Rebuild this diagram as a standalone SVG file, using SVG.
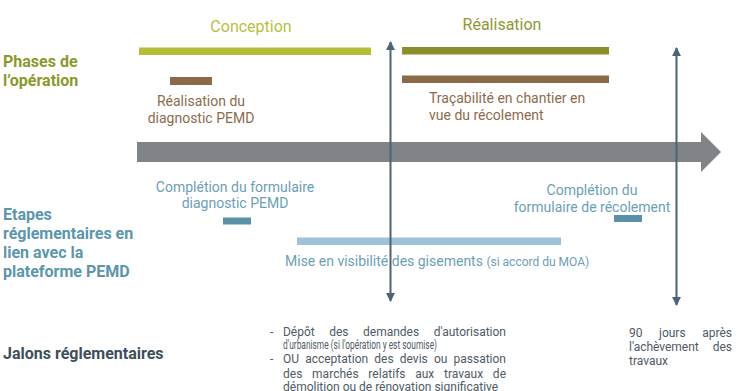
<svg xmlns="http://www.w3.org/2000/svg" width="737" height="391" viewBox="0 0 737 391">
<defs>
<style>
text{font-family:Roboto,"Liberation Sans",sans-serif;}
.h{font-weight:bold;font-size:16px;}
.olive{fill:#8a9a2b;}
.teal{fill:#5b96ae;}
.dark{fill:#3e4e5a;}
.brownT{fill:#8c6b4b;font-size:14px;}
.blueT{fill:#6aa0b8;font-size:14px;}
.sm{font-size:12px;fill:#4e5a64;}
.vline{stroke:#4a6475;stroke-width:2;fill:none;}
</style>
<marker id="ah" viewBox="0 0 10 10" refX="9" refY="5" markerWidth="4.5" markerHeight="4.5" orient="auto-start-reverse" markerUnits="strokeWidth">
<path d="M0,0 L10,5 L0,10 Z" fill="#4a6475"/>
</marker>
</defs>
<rect width="737" height="391" fill="#ffffff"/>

<g id="labels">
<text class="h olive" x="3" y="67">Phases de</text>
<text class="h olive" x="3" y="86">l’opération</text>
<text class="h teal" x="3" y="220">Etapes</text>
<text class="h teal" x="3" y="239">réglementaires en</text>
<text class="h teal" x="3" y="258">lien avec la</text>
<text class="h teal" x="3" y="277">plateforme PEMD</text>
<text class="h dark" x="3" y="359">Jalons réglementaires</text>
</g>

<g id="timeline">
<path d="M137,142 H701 V132 L721,152 L701,172 V162 H137 Z" fill="#808387"/>
</g>

<g id="conception">
<text x="251" y="32" font-size="16" fill="#b7bf3e" text-anchor="middle">Conception</text>
<rect x="139" y="47.5" width="232" height="7.5" fill="#b5bd35"/>
</g>

<g id="realisation">
<text x="502" y="30" font-size="16" fill="#8d9a33" text-anchor="middle">Réalisation</text>
<rect x="402" y="47" width="207" height="7.5" fill="#8a8f2a"/>
</g>

<g id="diagnostic">
<rect x="170" y="77" width="42" height="8" fill="#8b6b47"/>
<text class="brownT" x="201" y="106" text-anchor="middle">Réalisation du</text>
<text class="brownT" x="201" y="123" text-anchor="middle">diagnostic PEMD</text>
</g>

<g id="tracabilite">
<rect x="402" y="75.5" width="207" height="7.5" fill="#8b6b47"/>
<text class="brownT" x="429" y="103">Traçabilité en chantier en</text>
<text class="brownT" x="429" y="119.5">vue du récolement</text>
</g>

<g id="formulaire-diagnostic">
<text class="blueT" x="235" y="192" text-anchor="middle">Complétion du formulaire</text>
<text class="blueT" x="235" y="208" text-anchor="middle">diagnostic PEMD</text>
<rect x="223" y="217.5" width="28" height="7" fill="#5a91a8"/>
</g>

<g id="formulaire-recolement">
<text class="blueT" x="592" y="195" text-anchor="middle">Complétion du</text>
<text class="blueT" x="592" y="211.5" text-anchor="middle">formulaire de récolement</text>
<rect x="614" y="215" width="28" height="7" fill="#5a91a8"/>
</g>

<g id="gisements">
<rect x="297" y="237.5" width="264" height="7.5" fill="#9ec3d8"/>
<text class="blueT" x="285" y="266">Mise en visibilité des gisements <tspan font-size="12">(si accord du MOA)</tspan></text>
</g>

<g id="jalon-1">
<text class="sm" x="270" y="336">-</text>
<text class="sm" x="283" y="336" word-spacing="11.5" textLength="223" lengthAdjust="spacing">Dépôt des demandes d'autorisation</text>
<text class="sm" x="283" y="349" textLength="154" lengthAdjust="spacingAndGlyphs">d'urbanisme (si l'opération y est soumise)</text>
<text class="sm" x="270" y="363">-</text>
<text class="sm" x="283" y="363" word-spacing="3.2" textLength="223" lengthAdjust="spacing">OU acceptation des devis ou passation</text>
<text class="sm" x="283" y="377.5" word-spacing="6.6" textLength="223" lengthAdjust="spacing">des marchés relatifs aux travaux de</text>
<text class="sm" x="283" y="391">démolition ou de rénovation significative</text>
</g>

<g id="jalon-2">
<text class="sm" x="629" y="337" word-spacing="13.5" textLength="103" lengthAdjust="spacing">90 jours après</text>
<text class="sm" x="629" y="351" word-spacing="11" textLength="103" lengthAdjust="spacing">l'achèvement des</text>
<text class="sm" x="629" y="365">travaux</text>
</g>

<g id="connectors">
<line class="vline" x1="390.5" y1="301" x2="390.5" y2="42" marker-start="url(#ah)" marker-end="url(#ah)"/>
<line class="vline" x1="676.5" y1="305" x2="676.5" y2="48" marker-start="url(#ah)" marker-end="url(#ah)"/>
</g>
</svg>
